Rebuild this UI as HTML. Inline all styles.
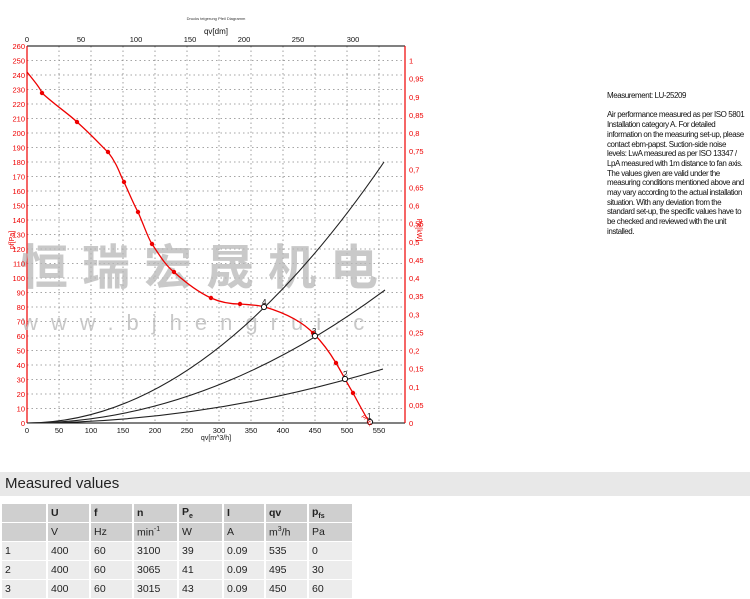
<!DOCTYPE html>
<html><head><meta charset="utf-8"><style>
body{margin:0;width:750px;height:591px;background:#fff;font-family:"Liberation Sans",Arial,sans-serif;overflow:hidden;position:relative}
.info{position:absolute;left:607px;top:91px;font-size:8px;line-height:9.7px;color:#111;letter-spacing:-0.45px;white-space:nowrap}
.hdr{position:absolute;left:0;top:472px;width:750px;height:24px;background:#e8e8e8;font-size:15px;line-height:24px;padding-left:5px;box-sizing:border-box;color:#222}
table{position:absolute;left:0;top:503px;border-collapse:separate;border-spacing:2px 1.5px;font-size:10.5px;color:#222}
td{height:18px;padding:0 0 0 3px;vertical-align:middle}
tr.g td{background:#cfcfcf;font-weight:bold}
tr.g2 td{background:#cfcfcf}
tr.l td{background:#ececec}
</style></head><body>
<svg width="600" height="460" style="position:absolute;left:0;top:0" font-family="Liberation Sans, Arial, sans-serif">
<text x="216" y="20" font-size="4" text-anchor="middle" fill="#333">Drucks teigerung Pfeil Diagramm</text>
<text x="216" y="34" font-size="8" text-anchor="middle" fill="#111">qv[dm]</text>
<g font-size="7.5" fill="#111" text-anchor="middle">
<text x="27" y="42">0</text><text x="81" y="42">50</text><text x="136" y="42">100</text><text x="190" y="42">150</text><text x="244" y="42">200</text><text x="298" y="42">250</text><text x="353" y="42">300</text>
</g>
<g stroke="#888" stroke-width="0.8" stroke-dasharray="1.5,3">
<line x1="59" y1="46" x2="59" y2="423"/><line x1="91" y1="46" x2="91" y2="423"/><line x1="123" y1="46" x2="123" y2="423"/><line x1="155" y1="46" x2="155" y2="423"/><line x1="187" y1="46" x2="187" y2="423"/><line x1="219" y1="46" x2="219" y2="423"/><line x1="251" y1="46" x2="251" y2="423"/><line x1="283" y1="46" x2="283" y2="423"/><line x1="315" y1="46" x2="315" y2="423"/><line x1="347" y1="46" x2="347" y2="423"/><line x1="379" y1="46" x2="379" y2="423"/>
<line x1="27" y1="408.5" x2="405" y2="408.5"/><line x1="27" y1="394" x2="405" y2="394"/><line x1="27" y1="379.5" x2="405" y2="379.5"/><line x1="27" y1="365" x2="405" y2="365"/><line x1="27" y1="350.5" x2="405" y2="350.5"/><line x1="27" y1="336" x2="405" y2="336"/><line x1="27" y1="321.5" x2="405" y2="321.5"/><line x1="27" y1="307" x2="405" y2="307"/><line x1="27" y1="292.5" x2="405" y2="292.5"/><line x1="27" y1="278" x2="405" y2="278"/><line x1="27" y1="263.5" x2="405" y2="263.5"/><line x1="27" y1="249" x2="405" y2="249"/><line x1="27" y1="234.5" x2="405" y2="234.5"/><line x1="27" y1="220" x2="405" y2="220"/><line x1="27" y1="205.5" x2="405" y2="205.5"/><line x1="27" y1="191" x2="405" y2="191"/><line x1="27" y1="176.5" x2="405" y2="176.5"/><line x1="27" y1="162" x2="405" y2="162"/><line x1="27" y1="147.5" x2="405" y2="147.5"/><line x1="27" y1="133" x2="405" y2="133"/><line x1="27" y1="118.5" x2="405" y2="118.5"/><line x1="27" y1="104" x2="405" y2="104"/><line x1="27" y1="89.5" x2="405" y2="89.5"/><line x1="27" y1="75" x2="405" y2="75"/><line x1="27" y1="60.5" x2="405" y2="60.5"/>
</g>
<line x1="27" y1="46" x2="405" y2="46" stroke="#000" stroke-width="1"/>
<line x1="27" y1="423" x2="405" y2="423" stroke="#000" stroke-width="1"/>
<line x1="27" y1="46" x2="27" y2="423" stroke="#e00" stroke-width="1.2"/>
<line x1="405" y1="46" x2="405" y2="423" stroke="#e00" stroke-width="1.2"/>
<text x="0" y="0" font-size="48" fill="#b8b8b8" opacity="0.75" font-family="Noto Sans CJK SC, sans-serif" font-weight="bold" transform="translate(20,284)" letter-spacing="14">恒瑞宏晟机电</text>
<text x="22" y="330" font-size="22" fill="#bbbbbb" opacity="0.8" letter-spacing="13">www.bjhengrui.c</text>
<g font-size="7.5" fill="#e00" text-anchor="end">
<text x="25" y="426">0</text><text x="25" y="411.5">10</text><text x="25" y="397">20</text><text x="25" y="382.5">30</text><text x="25" y="368">40</text><text x="25" y="353.5">50</text><text x="25" y="339">60</text><text x="25" y="324.5">70</text><text x="25" y="310">80</text><text x="25" y="295.5">90</text><text x="25" y="281">100</text><text x="25" y="266.5">110</text><text x="25" y="252">120</text><text x="25" y="237.5">130</text><text x="25" y="223">140</text><text x="25" y="208.5">150</text><text x="25" y="194">160</text><text x="25" y="179.5">170</text><text x="25" y="165">180</text><text x="25" y="150.5">190</text><text x="25" y="136">200</text><text x="25" y="121.5">210</text><text x="25" y="107">220</text><text x="25" y="92.5">230</text><text x="25" y="78">240</text><text x="25" y="63.5">250</text><text x="25" y="49">260</text>
</g>
<g font-size="7.5" fill="#e00">
<text x="409" y="426">0</text><text x="409" y="408">0,05</text><text x="409" y="390">0,1</text><text x="409" y="371.5">0,15</text><text x="409" y="353.5">0,2</text><text x="409" y="335.5">0,25</text><text x="409" y="317.5">0,3</text><text x="409" y="299">0,35</text><text x="409" y="281">0,4</text><text x="409" y="263">0,45</text><text x="409" y="245">0,5</text><text x="409" y="226.5">0,55</text><text x="409" y="208.5">0,6</text><text x="409" y="190.5">0,65</text><text x="409" y="172.5">0,7</text><text x="409" y="154">0,75</text><text x="409" y="136">0,8</text><text x="409" y="118">0,85</text><text x="409" y="100">0,9</text><text x="409" y="81.5">0,95</text><text x="409" y="63.5">1</text>
</g>
<text x="14" y="240" font-size="7" fill="#e00" transform="rotate(-90 14 240)" text-anchor="middle">pf[Pa]</text>
<text x="417" y="230" font-size="7" fill="#e00" transform="rotate(90 417 230)" text-anchor="middle">Pe[kW]</text>
<g font-size="7.5" fill="#111" text-anchor="middle">
<text x="27" y="433">0</text><text x="59" y="433">50</text><text x="91" y="433">100</text><text x="123" y="433">150</text><text x="155" y="433">200</text><text x="187" y="433">250</text><text x="219" y="433">300</text><text x="251" y="433">350</text><text x="283" y="433">400</text><text x="315" y="433">450</text><text x="347" y="433">500</text><text x="379" y="433">550</text>
</g>
<text x="216" y="440" font-size="7" text-anchor="middle" fill="#111">qv[m^3/h]</text>
<g fill="none" stroke="#222" stroke-width="1.1">
<path d="M27,423 Q205,423 384,162"/>
<path d="M27,423 Q206,423 385,290"/>
<path d="M27,423 Q205,423 383,369"/>
</g>
<path d="M27,72 C35,82 40,88 42,93 C55,105 70,115 77,122 C95,138 105,150 108,152 C118,165 120,175 124,182 C130,195 134,205 138,212 C145,228 148,238 152,244 C160,256 166,266 174,272 C185,282 198,292 211,298 C222,303 232,304 240,304 C252,305 258,305 265,307 C285,313 303,322 314,334 C324,344 330,353 336,363 C342,373 347,383 353,393 C359,404 364,414 370,423" fill="none" stroke="#e00" stroke-width="1.3"/>
<g fill="#e00">
<circle cx="42" cy="93" r="2.2"/><circle cx="77" cy="122" r="2.2"/><circle cx="108" cy="152" r="2.2"/><circle cx="124" cy="182" r="2.2"/><circle cx="138" cy="212" r="2.2"/><circle cx="152" cy="244" r="2.2"/><circle cx="174" cy="272" r="2.2"/><circle cx="211" cy="298" r="2.2"/><circle cx="240" cy="304" r="2.2"/><circle cx="264" cy="306" r="2.2"/><circle cx="313" cy="333" r="2.2"/><circle cx="336" cy="363" r="2.2"/><circle cx="353" cy="393" r="2.2"/>
</g>
<g fill="#fff" stroke="#111" stroke-width="1">
<circle cx="264" cy="307" r="2.6"/><circle cx="315" cy="336" r="2.6"/><circle cx="345" cy="379" r="2.6"/><circle cx="370" cy="422" r="2.6"/>
</g>
<g font-size="8" fill="#111"><text x="262" y="305">4</text><text x="312" y="334">3</text><text x="343" y="377">2</text><text x="367" y="419">1</text></g>
<text x="362" y="416" font-size="6" fill="#e00" transform="rotate(55 362 416)">pf 4x</text>
</svg>
<div class="info">Measurement: LU-25209<br><br>Air performance measured as per ISO 5801<br>Installation category A. For detailed<br>information on the measuring set-up, please<br>contact ebm-papst. Suction-side noise<br>levels: LwA measured as per ISO 13347 /<br>LpA measured with 1m distance to fan axis.<br>The values given are valid under the<br>measuring conditions mentioned above and<br>may vary according to the actual installation<br>situation. With any deviation from the<br>standard set-up, the specific values have to<br>be checked and reviewed with the unit<br>installed.</div>
<div class="hdr">Measured values</div>
<table>
<tr class="g"><td style="width:41px"></td><td style="width:38px">U</td><td style="width:38px">f</td><td style="width:40px">n</td><td style="width:40px">P<sub style="font-size:7px">e</sub></td><td style="width:37px">I</td><td style="width:38px">qv</td><td style="width:40px">p<sub style="font-size:7px">fs</sub></td></tr>
<tr class="g2"><td></td><td>V</td><td>Hz</td><td>min<sup style="font-size:7px">-1</sup></td><td>W</td><td>A</td><td>m<sup style="font-size:7px">3</sup>/h</td><td>Pa</td></tr>
<tr class="l"><td>1</td><td>400</td><td>60</td><td>3100</td><td>39</td><td>0.09</td><td>535</td><td>0</td></tr>
<tr class="l"><td>2</td><td>400</td><td>60</td><td>3065</td><td>41</td><td>0.09</td><td>495</td><td>30</td></tr>
<tr class="l"><td>3</td><td>400</td><td>60</td><td>3015</td><td>43</td><td>0.09</td><td>450</td><td>60</td></tr>
</table>
</body></html>
